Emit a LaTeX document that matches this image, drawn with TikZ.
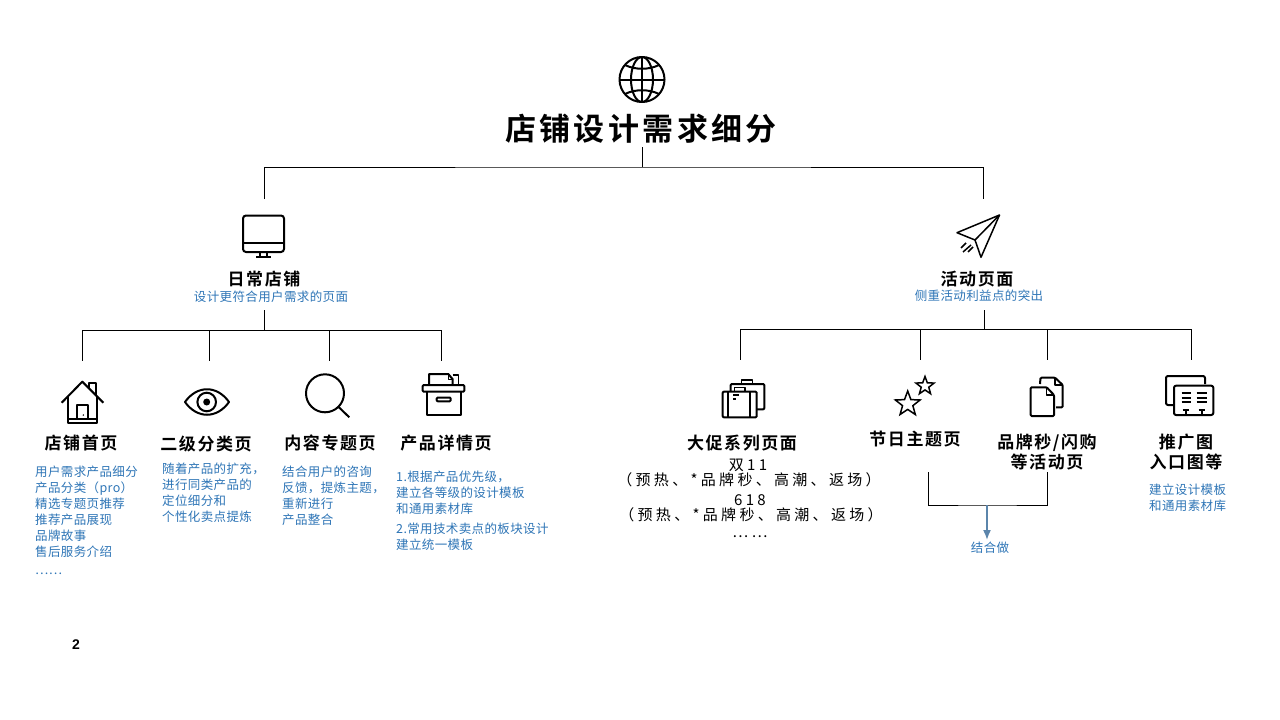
\documentclass[tikz,border=0pt]{standalone}
\usepackage{fontspec}
\setmainfont{Noto Sans CJK SC}
\newfontfamily\titlefont[LetterSpace=11]{Noto Sans CJK SC Bold}
\newfontfamily\headfont[LetterSpace=9]{Noto Sans CJK SC Bold}
\newfontfamily\descfont[LetterSpace=3]{Noto Sans CJK SC}
\newfontfamily\promofont[LetterSpace=22]{Noto Sans CJK SC}
\usetikzlibrary{shapes.geometric,arrows.meta}
\definecolor{descblue}{HTML}{2E75B6}
\definecolor{arrowblue}{HTML}{5B85AB}
\tikzset{
  titlenode/.style={inner sep=0pt,font=\titlefont\fontsize{31}{35}\selectfont},
  headnode/.style={inner sep=0pt,align=center,font=\headfont\fontsize{17}{20}\selectfont},
  descnode/.style={inner sep=0pt,align=left,text=descblue,font=\descfont\fontsize{12.5}{16}\selectfont},
  promonode/.style={inner sep=0pt,font=\promofont\fontsize{15}{16}\selectfont},
  bus/.style={line width=1pt,black},
  iconline/.style={line width=2pt,black,line join=round},
  iconthin/.style={line width=1.5pt,black,line join=round}
}

\begin{document}
\begin{tikzpicture}[x=1pt,y=-1pt]
\useasboundingbox (0,0) rectangle (1280,720);

% titles
\node[titlenode] (title) at (641,129) {店铺设计需求细分};
\node[headnode] (daily) at (264,279) {日常店铺};
\node[descnode] (dailydesc) at (271,297) {设计更符合用户需求的页面};
\node[headnode] (event) at (977,279) {活动页面};
\node[descnode] (eventdesc) at (979,296) {侧重活动利益点的突出};

% left column
\node[headnode] (home) at (81,443) {店铺首页};
\node[headnode] (second) at (206,444) {二级分类页};
\node[headnode] (topic) at (330,443) {内容专题页};
\node[headnode] (detail) at (446,443) {产品详情页};
\node[descnode,anchor=north west] (homedesc) at (35,466) {用户需求产品细分\\产品分类（pro）\\精选专题页推荐\\推荐产品展现\\品牌故事\\售后服务介绍\\[2pt]……};
\node[descnode,anchor=north west] (seconddesc) at (162,463) {随着产品的扩充，\\进行同类产品的\\定位细分和\\个性化卖点提炼};
\node[descnode,anchor=north west] (topicdesc) at (282,466) {结合用户的咨询\\反馈，提炼主题，\\重新进行\\产品整合};
\node[descnode,anchor=north west] (detaildesc) at (396,471) {1.根据产品优先级，\\建立各等级的设计模板\\和通用素材库\\[4pt]2.常用技术卖点的板块设计\\建立统一模板};

% right column
\node[headnode] (promo) at (742,443) {大促系列页面};
\node[promonode] (promoa) at (748,465) {双11};
\node[promonode] (promob) at (749,480) {（预热、*品牌秒、高潮、返场）};
\node[promonode] (promoc) at (750,500) {618};
\node[promonode] (promod) at (751,515) {（预热、*品牌秒、高潮、返场）};
\node[promonode] (promoe) at (750,537) {……};
\node[headnode] (festival) at (915,439) {节日主题页};
\node[headnode] (flash) at (1047,452) {品牌秒/闪购\\等活动页};
\node[headnode] (banner) at (1186,452) {推广图\\入口图等};
\node[descnode,anchor=north west] (bannerdesc) at (1149,484) {建立设计模板\\和通用素材库};
\node[descnode] (merge) at (990,548) {结合做};
\node[inner sep=0pt,font=\fontspec{Liberation Sans Bold}\fontsize{14}{16}\selectfont] (page) at (76,645) {2};

% connectors
\coordinate (rootbus) at (642,167);
\coordinate (rootfoot) at (642,147);
\coordinate (dailytop) at (264,199);
\coordinate (eventtop) at (983,199);
\coordinate (dailyfoot) at (264,310);
\coordinate (eventfoot) at (984,310);
\coordinate (dailybus) at (264,330);
\coordinate (eventbus) at (984,329);
\draw[bus] (rootfoot) -- (rootbus);
\draw[bus] (dailytop) |- (rootbus) -| (eventtop);
\draw[bus] (dailyfoot) -- (dailybus);
\draw[bus] (eventfoot) -- (eventbus);
\foreach \name/\x in {home/82,second/209,topic/329,detail/441}{
  \coordinate (\name top) at (\x,361);
  \draw[bus] (dailybus) -| (\name top);
}
\foreach \name/\x in {promo/740,festival/920,flash/1047,banner/1191}{
  \coordinate (\name top) at (\x,360);
  \draw[bus] (eventbus) -| (\name top);
}
\coordinate (festfoot) at (928,472);
\coordinate (flashfoot) at (1047,472);
\coordinate (mergebus) at (987,505);
\coordinate (mergetip) at (987,540);
\draw[bus] (festfoot) |- (mergebus) -| (flashfoot);
\draw[arrowblue,line width=1.6pt,-{Latex[length=10pt,width=8pt]}] (mergebus) -- (mergetip);

% globe
\draw[iconline] (642,79.5) circle(22.5);
\draw[iconline] (642,79.5) ellipse(11 and 22.5);
\draw[iconline] (642,57) -- (642,102);
\draw[iconline] (619.5,79.5) -- (664.5,79.5);
\draw[iconline] (625,65) .. controls (635,70) and (649,70) .. (659,65);
\draw[iconline] (625,94) .. controls (635,89) and (649,89) .. (659,94);

% monitor
\draw[iconline,rounded corners=3pt] (243,215.5) rectangle (284,252);
\draw[iconline] (243,243) -- (284,243);
\draw[iconline] (260,252) -- (260,257);
\draw[iconline] (267,252) -- (267,257);
\draw[iconline] (256,257) -- (271,257);

% paper plane
\draw[iconthin] (999.5,215) -- (957,232.7) -- (975,240) -- cycle;
\draw[iconthin] (975,240) -- (981,257.3) -- (999.5,215);
\draw[iconthin] (963,252) -- (971,245);
\draw[iconthin] (968,252) -- (973,247);
\draw[iconthin] (961,248) -- (966,243);

% house
\draw[iconline] (61.7,402.7) -- (82.3,381.7) -- (103.3,402.7);
\draw[iconline] (89.3,388.5) -- (89.3,383.3) -- (95.7,383.3) -- (95.7,395);
\draw[iconline] (68.3,396) -- (68.3,423) -- (97.3,423) -- (97.3,396);
\draw[iconline] (68.3,419) -- (97.3,419);
\draw[iconline] (77.3,419) -- (77.3,405) -- (87.7,405) -- (87.7,419);
\fill (83.3,415) circle(0.8);

% eye
\draw[iconline] (185,402) .. controls (197,385) and (217,385) .. (229,402) .. controls (217,419) and (197,419) .. (185,402) -- cycle;
\draw[iconline] (206.7,402) circle(9.3);
\fill (206.7,402) circle(3.5);

% magnifier
\draw[iconline] (325,393.3) circle(19);
\draw[iconline] (338.3,406.7) -- (349.3,417.3);

% archive box
\draw[iconline,rounded corners=1pt] (422.7,385) rectangle (464.3,391.7);
\draw[iconline] (426.7,391.7) -- (426.7,415) -- (460.7,415) -- (460.7,391.7);
\draw[iconline,rounded corners=1pt] (436.7,397.5) rectangle (450.7,401.3);
\draw[iconline] (429,385) -- (429,374) -- (448.3,374) -- (452.7,379.3) -- (452.7,385);
\draw[iconthin] (448.3,374) -- (448.3,379.3) -- (452.7,379.3);
\draw[iconthin] (452.7,375) -- (458.3,375) -- (458.3,385);

% suitcases
\draw[iconline,rounded corners=1pt] (722.7,391.7) rectangle (756.7,417.3);
\draw[iconthin] (734.3,391.7) -- (734.3,387.3) -- (745,387.3) -- (745,391.7);
\draw[iconline] (728.3,391.7) -- (728.3,417.3);
\draw[iconline] (750,391.7) -- (750,417.3);
\draw[iconthin] (733.3,395) -- (739.3,395);
\draw[iconthin] (733,399) -- (736,399);
\draw[iconline,rounded corners=1pt] (730.7,391.7) -- (730.7,384) -- (764.3,384) -- (764.3,409.3) -- (756.7,409.3);
\draw[iconthin] (741.7,384) -- (741.7,380) -- (752.7,380) -- (752.7,384);

% stars
\node[draw,star,star points=5,star point ratio=2.4,line width=1.5pt,minimum size=26pt,inner sep=0pt] (bigstar) at (907.7,404) {};
\node[draw,star,star points=5,star point ratio=2.4,line width=1.5pt,minimum size=19pt,inner sep=0pt] (smallstar) at (925,386) {};

% documents
\draw[iconline,rounded corners=1pt] (1046.7,387.3) -- (1030.7,387.3) -- (1030.7,416) -- (1054,416) -- (1054,395) -- cycle;
\draw[iconthin] (1046.7,387.3) -- (1046.7,395) -- (1054,395);
\draw[iconline,rounded corners=1pt] (1040,384) -- (1040.5,377.7) -- (1055,377.7) -- (1062.7,385) -- (1062.7,407.3) -- (1056,407.3);
\draw[iconthin] (1055,377.7) -- (1055,385) -- (1062.7,385);

% banner board
\draw[iconline,rounded corners=2pt] (1205,384) -- (1205,376) -- (1166,376) -- (1166,405) -- (1173,405);
\draw[iconline,rounded corners=2pt] (1174,385.7) rectangle (1213.3,415);
\foreach \y in {393.3,397.7,401.7}{
  \draw[iconline] (1181.7,\y) -- (1190.7,\y);
  \draw[iconline] (1196.7,\y) -- (1207.3,\y);
}
\foreach \x in {1185.7,1201.7}{
  \draw[iconline] (\x-3,410) -- (\x+3,410);
  \draw[iconline] (\x,410) -- (\x,415);
}
\end{tikzpicture}
\end{document}
